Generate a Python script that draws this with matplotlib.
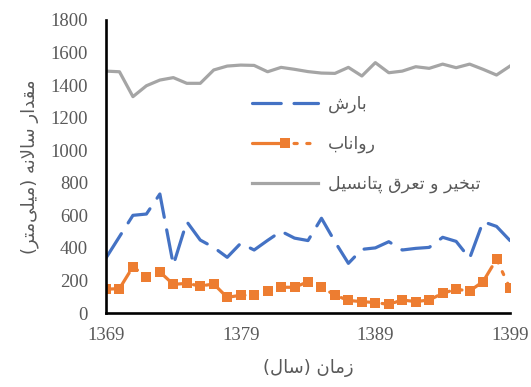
import matplotlib
matplotlib.use("Agg")
import matplotlib.pyplot as plt

# ---------------- data ----------------
years = list(range(1369, 1400))
precip = [338, 469, 600, 608, 731, 295, 561, 448, 403, 342, 428, 387, 446, 502, 460,
          445, 582, 438, 305, 391, 400, 438, 387, 397, 403, 465, 440, 336, 561, 532, 445]
runoff = [146, 150, 284, 223, 252, 176, 182, 166, 178, 96, 109, 109, 137, 158, 158,
          192, 158, 110, 77, 70, 64, 53, 80, 70, 80, 121, 146, 135, 193, 330, 152]
pet = [1486, 1482, 1329, 1396, 1431, 1446, 1411, 1411, 1493, 1517, 1523, 1521, 1482, 1509, 1497,
       1483, 1474, 1472, 1509, 1456, 1538, 1476, 1486, 1513, 1503, 1529, 1507, 1529, 1497, 1462, 1517]
series_names = ["بارش", "رواناب", "تبخیر و تعرق پتانسیل"]
xlabel = "زمان (سال)"
ylabel = "مقدار سالانه (میلی\u200cمتر)"
xticks = [1369, 1379, 1389, 1399]
yticks = list(range(0, 1801, 200))

# ------------- minimal Persian shaping (contextual forms + RTL order) -------------
FORMS = {
    '\u0627': ('\uFE8D', '\uFE8E', None, None),
    '\u0628': ('\uFE8F', '\uFE90', '\uFE91', '\uFE92'),
    '\u062A': ('\uFE95', '\uFE96', '\uFE97', '\uFE98'),
    '\u062E': ('\uFEA5', '\uFEA6', '\uFEA7', '\uFEA8'),
    '\u062F': ('\uFEA9', '\uFEAA', None, None),
    '\u0631': ('\uFEAD', '\uFEAE', None, None),
    '\u0632': ('\uFEAF', '\uFEB0', None, None),
    '\u0633': ('\uFEB1', '\uFEB2', '\uFEB3', '\uFEB4'),
    '\u0634': ('\uFEB5', '\uFEB6', '\uFEB7', '\uFEB8'),
    '\u0639': ('\uFEC9', '\uFECA', '\uFECB', '\uFECC'),
    '\u0642': ('\uFED5', '\uFED6', '\uFED7', '\uFED8'),
    '\u0644': ('\uFEDD', '\uFEDE', '\uFEDF', '\uFEE0'),
    '\u0645': ('\uFEE1', '\uFEE2', '\uFEE3', '\uFEE4'),
    '\u0646': ('\uFEE5', '\uFEE6', '\uFEE7', '\uFEE8'),
    '\u0647': ('\uFEE9', '\uFEEA', '\uFEEB', '\uFEEC'),
    '\u0648': ('\uFEED', '\uFEEE', None, None),
    '\u06CC': ('\uFEEF', '\uFEF0', '\uFEF3', '\uFEF4'),
    '\u067E': ('\uFB56', '\uFB57', '\uFB58', '\uFB59'),
    'LA': ('\uFEFB', '\uFEFC', None, None),
}
MIRROR = {'(': ')', ')': '('}


def shape(text):
    toks = []
    i = 0
    while i < len(text):
        if text[i] == '\u0644' and i + 1 < len(text) and text[i + 1] == '\u0627':
            toks.append('LA')
            i += 2
        else:
            toks.append(text[i])
            i += 1

    def dual(t):
        return t in FORMS and FORMS[t][2] is not None

    def joins(t):
        return t in FORMS

    out = []
    for k, t in enumerate(toks):
        if t not in FORMS:
            if t == '\u200c':
                continue
            out.append(MIRROR.get(t, t))
            continue
        prev_c = k > 0 and dual(toks[k - 1])
        next_c = dual(t) and k + 1 < len(toks) and joins(toks[k + 1])
        iso, fin, ini, med = FORMS[t]
        if prev_c and next_c:
            g = med
        elif prev_c:
            g = fin
        elif next_c:
            g = ini
        else:
            g = iso
        out.append(g)
    return ''.join(reversed(out))


# ---------------- figure ----------------
grey_txt = '#595959'
fig = plt.figure(figsize=(5.31, 3.87), dpi=100)
ax = fig.add_axes([106 / 531, 1 - 313 / 387, (510 - 106) / 531, (313 - 20) / 387])

lw = 2.3
ax.plot(years, precip, color='#4472C4', lw=lw, linestyle=(0, (9, 4)),
        solid_capstyle='round', dash_capstyle='round', label=shape(series_names[0]))
ax.plot(years, runoff, color='#ED7D31', lw=lw, linestyle=(0, (10, 3, 1, 3, 1, 3)),
        dash_capstyle='round', marker='s', markersize=6.5, markeredgewidth=0,
        label=shape(series_names[1]))
ax.plot(years, pet, color='#A5A5A5', lw=lw, solid_joinstyle='round',
        label=shape(series_names[2]))

ax.set_xlim(1369, 1399)
ax.set_ylim(0, 1800)
ax.set_xticks(xticks)
ax.set_yticks(yticks)
for s in ['top', 'right']:
    ax.spines[s].set_visible(False)
for s in ['left', 'bottom']:
    ax.spines[s].set_linewidth(1.9)
    ax.spines[s].set_color('black')
ax.tick_params(length=0, labelcolor=grey_txt)
ax.tick_params(axis='y', pad=13)
ax.tick_params(axis='x', pad=10)
for lab in ax.get_xticklabels() + ax.get_yticklabels():
    lab.set_fontfamily('Liberation Serif')
    lab.set_fontsize(13.5)

ax.set_xlabel(shape(xlabel), fontsize=13, color=grey_txt, family=['DejaVu Sans'])
ax.xaxis.label.set_va('center')
ax.xaxis.set_label_coords((308 - 106) / 404, (313 - 368) / 293)
ax.set_ylabel(shape(ylabel), fontsize=13, color=grey_txt, family=['DejaVu Sans'])
ax.yaxis.label.set_va('center')
ax.yaxis.set_label_coords((30 - 106) / 404, 0.5)

leg = ax.legend(loc='upper left', bbox_to_anchor=(252 / 531, 1 - 95 / 387),
                bbox_transform=fig.transFigure, frameon=False, borderpad=0,
                borderaxespad=0, handlelength=3.8, handletextpad=0.55,
                labelspacing=1.25, numpoints=1, prop={'family': 'DejaVu Sans', 'size': 12.5})
for t in leg.get_texts():
    t.set_color(grey_txt)

fig.savefig('out.png', dpi=100)
